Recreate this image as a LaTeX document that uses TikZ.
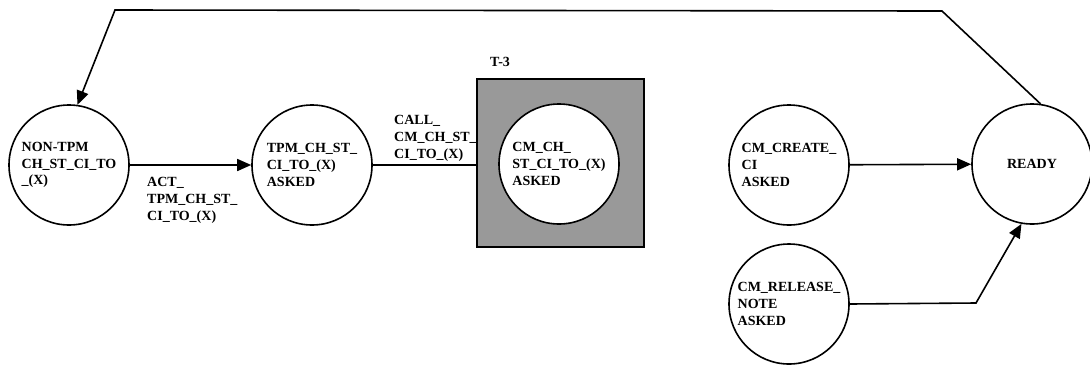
\documentclass[tikz,border=0pt]{standalone}
\usepackage{fontspec}
\setmainfont{Liberation Serif}
\usetikzlibrary{arrows.meta}
\begin{document}
\begin{tikzpicture}[x=1pt,y=-1pt,
  state/.style={circle,draw,line width=1.6pt,minimum size=120pt,inner sep=0pt,fill=white,
    align=left,font=\fontsize{14}{16.8}\selectfont\bfseries},
  lbl/.style={align=left,inner sep=0pt,font=\fontsize{14}{16.8}\selectfont\bfseries},
  conn/.style={line width=1.6pt},
  arr/.style={conn,-{Triangle[length=14pt,width=12pt]}}]
\useasboundingbox (0,0) rectangle (1090,365);
\node[draw,line width=1.4pt,fill=black!40,minimum width=167pt,minimum height=168pt,inner sep=0pt] (box) at (560.5,163) {};
\node[lbl,anchor=west] (t3) at (490,62) {T-3};
\node[state] (non) at (69,165) {NON-TPM\\CH\_ST\_CI\_TO\\\_(X)};
\node[state] (tpm) at (312,165) {TPM\_CH\_ST\_\\CI\_TO\_(X)\\ASKED};
\node[state] (cmch) at (559,164) {CM\_CH\_\\ST\_CI\_TO\_(X)\\ASKED};
\node[state] (create) at (789,165) {CM\_CREATE\_\\CI\\ASKED};
\node[state] (rel) at (789,304) {CM\_RELEASE\_\\NOTE\\ASKED};
\node[state] (ready) at (1032,164) {READY};
\node[lbl,anchor=north west] (actl) at (147,177) {ACT\_\\TPM\_CH\_ST\_\\CI\_TO\_(X)};
\node[lbl,anchor=north west] (calll) at (394,115) {CALL\_\\CM\_CH\_ST\_\\CI\_TO\_(X)};
\coordinate (c1) at (942,11);
\coordinate (c2) at (115,10);
\coordinate (c3) at (976,303);
\draw[arr] (non) -- (tpm);
\draw[conn] (tpm.east) -- (box.west |- tpm.east);
\draw[arr] (create) -- (ready);
\draw[arr] (rel.east) -- (c3) -- (ready.260);
\draw[arr] (ready.82) -- (c1) -- (c2) -- (non.82);
\end{tikzpicture}
\end{document}
